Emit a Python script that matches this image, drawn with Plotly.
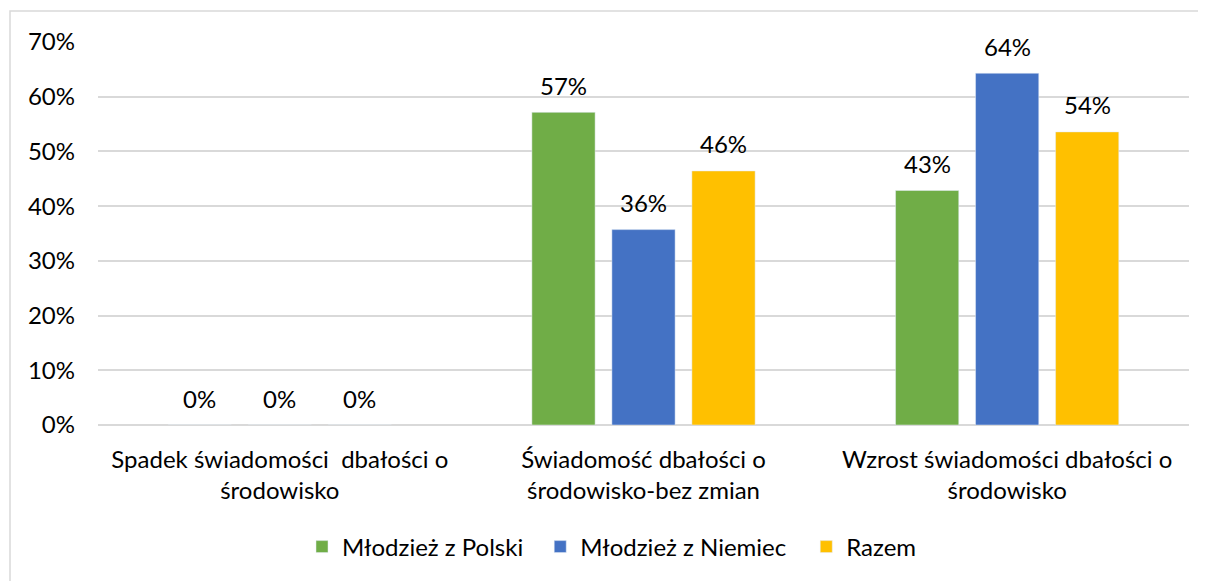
import plotly.graph_objects as go

categories = ["Spadek świadomości  dbałości o<br>środowisko",
              "Świadomość dbałości o<br>środowisko-bez zmian",
              "Wzrost świadomości dbałości o<br>środowisko"]
series_names = ["Młodzież z Polski", "Młodzież z Niemiec", "Razem"]
polska = [0.0, 57.14, 42.86]
niemcy = [0.0, 35.71, 64.29]
razem = [0.0, 46.43, 53.57]
colors = ["#70AD47", "#4472C4", "#FFC000"]
tick_vals = [0, 10, 20, 30, 40, 50, 60, 70]
tick_text = [f"{v}%" for v in tick_vals]

FONT = "Lato, 'Open Sans', sans-serif"
FS = 24
OFF = 8  # page body margin
BARGAP = 0.34
GROUPGAP = 0.21
# extra spacing after legend entries (wider item gaps, like the original)
legend_pad = ["\u2002", "\u2002\u2009", ""]

W, H = 1206 - OFF, 581 - OFF
L, R, T, B = 98 - OFF, 17, 42 - OFF, 156
pw, ph = W - L - R, H - T - B

def px(x):
    return (x - OFF - L) / pw

def py(y):
    return 1 - (y - OFF - T) / ph

fig = go.Figure()
all_series = [polska, niemcy, razem]
for name, pad, vals, col in zip(series_names, legend_pad, all_series, colors):
    fig.add_trace(go.Bar(x=categories, y=vals, name=name + pad, marker_color=col))

# data labels, placed through the axes with a pixel offset per series slot
slot_px = pw / len(categories) * (1 - BARGAP) / len(series_names)
annotations = []
for si, vals in enumerate(all_series):
    shift = (si - (len(series_names) - 1) / 2) * slot_px
    for cat, v in zip(categories, vals):
        annotations.append(dict(x=cat, y=v, xref="x", yref="y", text=f"{round(v)}%",
                                showarrow=False, xshift=shift, yshift=27,
                                yanchor="middle", xanchor="center",
                                font=dict(size=FS, color="#000000", family=FONT)))

fig.update_layout(
    width=W, height=H,
    margin=dict(l=L, r=R, t=T, b=B),
    paper_bgcolor="white", plot_bgcolor="white",
    barmode="group", bargap=BARGAP, bargroupgap=GROUPGAP,
    font=dict(family=FONT, size=FS, color="#000000"),
    showlegend=True,
    legend=dict(orientation="h", x=px(612), xanchor="center", y=py(547), yanchor="middle",
                font=dict(size=FS), traceorder="normal"),
    xaxis=dict(showgrid=False, showline=False, ticks="", tickfont=dict(size=FS),
               ticklabelstandoff=18),
    yaxis=dict(range=[0, 70], tickvals=tick_vals, ticktext=tick_text,
               showgrid=True, gridcolor="#D9D9D9", gridwidth=1.5,
               zeroline=True, zerolinecolor="#D9D9D9", zerolinewidth=1.5,
               showline=False, ticks="", tickfont=dict(size=FS),
               ticklabelstandoff=22),
    annotations=annotations,
    shapes=[dict(type="rect", xref="paper", yref="paper",
                 x0=px(10), x1=px(1225), y0=py(600), y1=py(11),
                 line=dict(color="#D9D9D9", width=1.5), fillcolor="rgba(0,0,0,0)")],
)

fig.write_html("out.html")
